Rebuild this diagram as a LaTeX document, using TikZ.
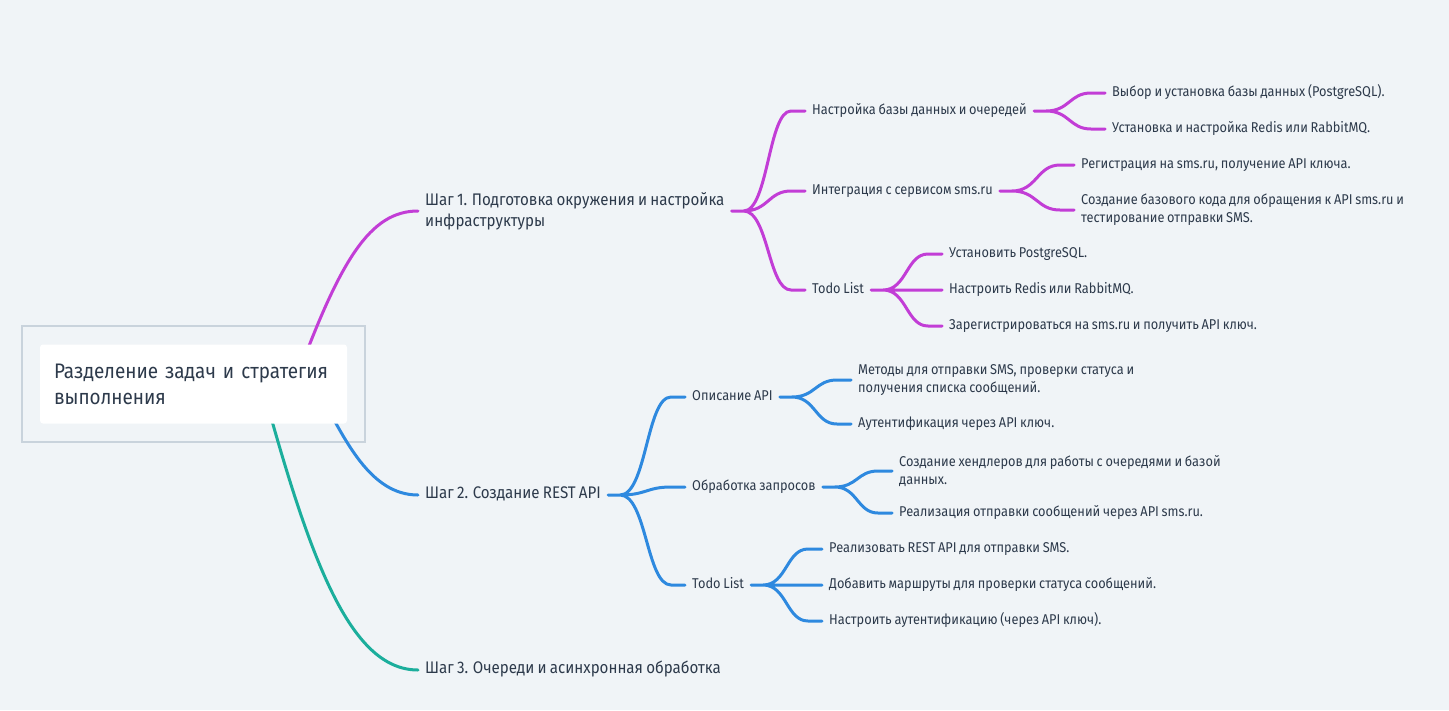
\documentclass[tikz,border=0pt]{standalone}
\usepackage{fontspec}
\setmainfont{Fira Sans}[FakeStretch=0.9, WordSpace=0.8]
\usetikzlibrary{calc}
\definecolor{bg}{HTML}{F0F4F7}
\definecolor{frame}{HTML}{C9D3DC}
\definecolor{ink}{HTML}{2D3A4B}
\definecolor{cpur}{HTML}{C23DD6}
\definecolor{cblue}{HTML}{2E89DF}
\definecolor{cteal}{HTML}{1BAE9C}
\begin{document}
\begin{tikzpicture}[x=1pt,y=-1pt,
  txt/.style={inner ysep=0pt, inner xsep=7pt, anchor=west, text=ink, align=left},
  one/.style={text height=0.75em, text depth=0pt},
  two/.style={yshift=-1pt},
  lone/.style={txt, font=\fontsize{16.8}{21}\selectfont},
  ltwo/.style={txt, font=\fontsize{14.2}{18}\selectfont},
  leaf/.style={txt, font=\fontsize{14.2}{18}\selectfont},
  wire/.style={line width=3pt, line cap=round},
  conn/.style={wire, to path={let \p1=(\tikztostart), \p2=(\tikztotarget),
     \p3=($(\tikztostart)!0.5!(\tikztotarget)$) in
     -- (\x1+12pt,\y1) .. controls (\x3,\y1) and (\x3,\y2) .. (\x2-14pt,\y2) -- (\tikztotarget)}},
  pur/.style={draw=cpur}, blu/.style={draw=cblue}, tea/.style={draw=cteal}
]
\fill[bg] (0,0) rectangle (1449,710);
\useasboundingbox (0,0) rectangle (1449,710);

% level 1
\node[lone,two] (s1) at (418,210) {Шаг 1. Подготовка окружения и настройка\\инфраструктуры};
\node[lone,one] (s2) at (418,495) {Шаг 2. Создание REST API};
\node[lone,one] (s3) at (418,670) {Шаг 3. Очереди и асинхронная обработка};

% level 2 purple
\node[ltwo,one] (a1) at (805,111) {Настройка базы данных и очередей};
\node[ltwo,one] (a2) at (805,191) {Интеграция с сервисом sms.ru};
\node[ltwo,one] (a3) at (805,290) {Todo List};
\node[leaf,one] (a11) at (1105,93) {Выбор и установка базы данных (PostgreSQL).};
\node[leaf,one] (a12) at (1105,129) {Установка и настройка Redis или RabbitMQ.};
\node[leaf,one] (a21) at (1074,165) {Регистрация на sms.ru, получение API ключа.};
\node[leaf,two] (a22) at (1074,209) {Создание базового кода для обращения к API sms.ru и\\тестирование отправки SMS.};
\node[leaf,one] (a31) at (942,254) {Установить PostgreSQL.};
\node[leaf,one] (a32) at (942,290) {Настроить Redis или RabbitMQ.};
\node[leaf,one] (a33) at (942,326) {Зарегистрироваться на sms.ru и получить API ключ.};

% level 2 blue
\node[ltwo,one] (b1) at (685,397) {Описание API};
\node[ltwo,one] (b2) at (685,487) {Обработка запросов};
\node[ltwo,one] (b3) at (685,585) {Todo List};
\node[leaf,two] (b11) at (851,379) {Методы для отправки SMS, проверки статуса и\\получения списка сообщений.};
\node[leaf,one] (b12) at (851,424) {Аутентификация через API ключ.};
\node[leaf,two] (b21) at (892,470) {Создание хендлеров для работы с очередями и базой\\данных.};
\node[leaf,one] (b22) at (892,513) {Реализация отправки сообщений через API sms.ru.};
\node[leaf,one] (b31) at (822,549) {Реализовать REST API для отправки SMS.};
\node[leaf,one] (b32) at (822,585) {Добавить маршруты для проверки статуса сообщений.};
\node[leaf,one] (b33) at (822,621) {Настроить аутентификацию (через API ключ).};

% connectors
\draw[conn,pur] (s1.east) to (a1.west) (s1.east) to (a2.west) (s1.east) to (a3.west);
\draw[conn,pur] (a1.east) to (a11.west) (a1.east) to (a12.west);
\draw[conn,pur] (a2.east) to (a21.west) (a2.east) to (a22.west);
\draw[conn,pur] (a3.east) to (a31.west) (a3.east) to (a32.west) (a3.east) to (a33.west);
\draw[conn,blu] (s2.east) to (b1.west) (s2.east) to (b2.west) (s2.east) to (b3.west);
\draw[conn,blu] (b1.east) to (b11.west) (b1.east) to (b12.west);
\draw[conn,blu] (b2.east) to (b21.west) (b2.east) to (b22.west);
\draw[conn,blu] (b3.east) to (b31.west) (b3.east) to (b32.west) (b3.east) to (b33.west);

% root
\node[draw=frame, line width=1.3pt, minimum width=343pt, minimum height=116pt, inner sep=0pt] (frame) at (193.5,384) {};
\coordinate (r1) at (295,383);
\coordinate (r2) at (318,390);
\coordinate (r3) at (262,385);
\draw[wire,pur] (r1) .. controls +(45,-123) and +(-48,0) .. (s1.west);
\draw[wire,blu] (r2) .. controls +(27,50) and +(-48,0) .. (s2.west);
\draw[wire,tea] (r3) .. controls +(48,175) and +(-68,0) .. (s3.west);
\node[fill=white, rounded corners=3pt, minimum width=307pt, minimum height=79pt, text width=279pt, inner xsep=14pt, inner ysep=0pt, align=left, text=ink, font=\fontsize{21}{26}\selectfont] (root) at (frame.center) {Разделение задач и стратегия\\выполнения};
\end{tikzpicture}
\end{document}
